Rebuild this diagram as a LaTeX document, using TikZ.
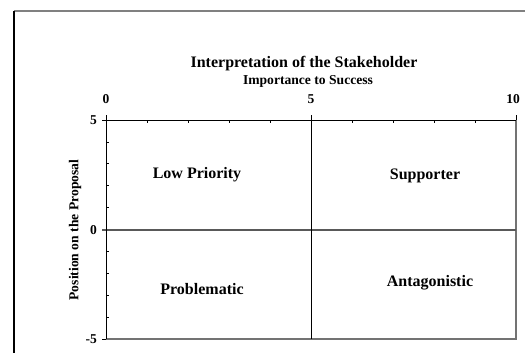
\documentclass[tikz,border=0pt]{standalone}
\usepackage{fontspec}
\setmainfont{Liberation Serif}
\begin{document}
\begin{tikzpicture}[x=1bp,y=-1bp,
  axisline/.style={black,line width=1bp},
  borderline/.style={gray!90!black,line width=1.6bp},
  midline/.style={black!65,line width=1.3bp},
  tick/.style={black,line width=0.8bp},
  title/.style={font=\fontsize{16bp}{18bp}\selectfont\bfseries,inner sep=0pt},
  subtitle/.style={font=\fontsize{13.6bp}{15bp}\selectfont\bfseries,inner sep=0pt},
  ticklabel/.style={font=\fontsize{13.5bp}{15bp}\selectfont\bfseries,inner sep=0pt},
  quadlabel/.style={font=\fontsize{16bp}{18bp}\selectfont\bfseries,inner sep=0pt}]
\useasboundingbox (0,0) rectangle (525,353);
% outer frame
\draw[gray,line width=1.2bp] (14,11) -- (525,11);
\draw[black,line width=1.2bp] (14,11) -- (14,353);
% plot area corners
\coordinate (tl) at (106,120);
\coordinate (tr) at (516,120);
\coordinate (bl) at (106,339);
\coordinate (br) at (516,339);
\coordinate (tm) at (311,115);
\coordinate (bm) at (311,339);
\coordinate (lm) at (102,230);
\coordinate (rm) at (516,230);
% gray border right and bottom
\draw[borderline] (tr) -- (br) -- (bl);
% middle lines
\draw[midline] (lm) -- (rm);
\draw[axisline] (tm) -- (bm);
% axes
\draw[axisline] (106,115) -- (bl);
\draw[axisline] (tl) -- (tr);
% top ticks
\foreach \i in {1,2,3,4,6,7,8,9} \draw[tick] (106+41*\i,120) -- (106+41*\i,123);
\draw[tick] (516,115) -- (516,120);
% left ticks
\foreach \i in {1,2,3,4,6,7,8,9} \draw[tick] (106,120+21.9*\i) -- (109,120+21.9*\i);
\draw[tick] (102,120) -- (106,120);
\draw[tick] (102,339) -- (106,339);
% titles
\node[title] (t1) at (304,64) {Interpretation of the Stakeholder};
\node[subtitle] (t2) at (308,81) {Importance to Success};
% top tick labels
\node[ticklabel] (x0) at (106,99) {0};
\node[ticklabel] (x5) at (311,99) {5};
\node[ticklabel] (x10) at (513,99) {10};
% left tick labels
\node[ticklabel,anchor=east] (y5) at (97,120) {5};
\node[ticklabel,anchor=east] (y0) at (97,230) {0};
\node[ticklabel,anchor=east] (ym5) at (97,339) {-5};
\node[subtitle,rotate=90] (ylab) at (75,230) {Position on the Proposal};
% quadrant labels
\node[quadlabel] (q1) at (197,175) {Low Priority};
\node[quadlabel] (q2) at (425,176) {Supporter};
\node[quadlabel] (q3) at (202,289) {Problematic};
\node[quadlabel] (q4) at (430,283) {Antagonistic};
\end{tikzpicture}
\end{document}
